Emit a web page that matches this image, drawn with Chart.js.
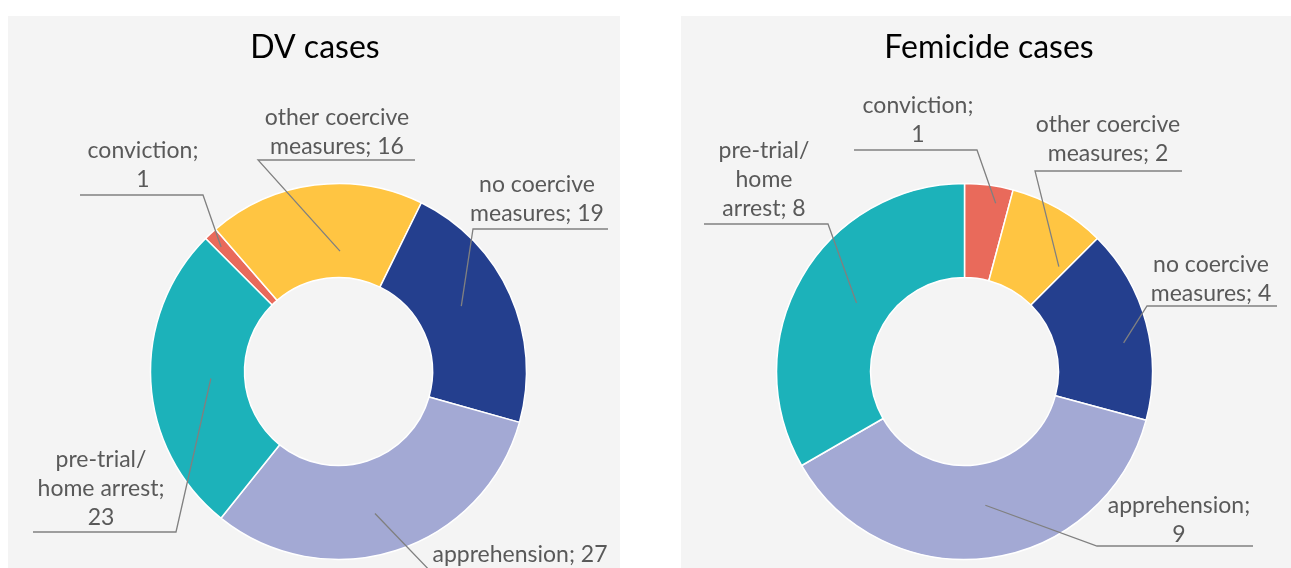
<!DOCTYPE html>
<html>
<head>
<meta charset="utf-8">
<script src="https://cdn.jsdelivr.net/npm/chart.js@4.4.1/dist/chart.umd.min.js"></script>
<style>
  body { margin: 0; background: #fff; width: 1291px; height: 568px; overflow: hidden; position: relative; font-family: Lato, sans-serif; }
  .panel { position: absolute; top: 16px; width: 612px; height: 552px; background: #f4f4f4; }
</style>
</head>
<body>
<div class="panel" style="left:8px"><canvas id="dvChart"></canvas></div>
<div class="panel" style="left:681px"><canvas id="femChart"></canvas></div>

<script>
// data
const categories = ['conviction', 'other coercive measures', 'no coercive measures', 'apprehension', 'pre-trial/home arrest'];
const dvValues = [1, 16, 19, 27, 23];
const femicideValues = [1, 2, 4, 9, 8];
const sliceColors = ['#e96a5b', '#ffc542', '#243f8e', '#a3a9d4', '#1cb2ba'];

// how each data label is wrapped ({v} = value)
const dvLabelLines = [
    ['conviction;', '{v}'],
    ['other coercive', 'measures; {v}'],
    ['no coercive', 'measures; {v}'],
    ['apprehension; {v}'],
    ['pre-trial/', 'home arrest;', '{v}']
];
const femicideLabelLines = [
    ['conviction;', '{v}'],
    ['other coercive', 'measures; {v}'],
    ['no coercive', 'measures; {v}'],
    ['apprehension;', '{v}'],
    ['pre-trial/', 'home', 'arrest; {v}']
];

// draws title, data labels and leader lines
const calloutPlugin = {
    id: 'callouts',
    afterDatasetsDraw(chart, args, opts) {
        const ctx = chart.ctx;
        const meta = chart.getDatasetMeta(0);
        const values = chart.data.datasets[0].data;
        ctx.save();
        ctx.textAlign = 'center';
        ctx.textBaseline = 'alphabetic';
        ctx.fillStyle = '#000';
        ctx.font = '32px Lato';
        ctx.fillText(opts.title, opts.titleX, opts.titleY);

        ctx.font = '23px Lato';
        opts.labels.forEach((lab, i) => {
            const arc = meta.data[i];
            const p = arc.getProps(['x', 'y', 'startAngle', 'endAngle', 'outerRadius'], true);
            const a = p.startAngle + lab.at * (p.endAngle - p.startAngle);
            const ax = p.x + Math.cos(a) * lab.r * p.outerRadius;
            const ay = p.y + Math.sin(a) * lab.r * p.outerRadius;
            const other = lab.elbow === lab.x1 ? lab.x2 : lab.x1;

            ctx.strokeStyle = '#808080';
            ctx.lineWidth = 1.3;
            ctx.beginPath();
            ctx.moveTo(ax, ay);
            ctx.lineTo(lab.elbow, lab.lineY);
            ctx.lineTo(other, lab.lineY);
            ctx.stroke();

            ctx.fillStyle = '#595959';
            opts.lines[i].forEach((t, k) => {
                ctx.fillText(t.replace('{v}', values[i]), lab.cx, lab.y + k * 29);
            });
        });
        ctx.restore();
    }
};

function renderDonut(id, values, rotation, padding, callouts) {
    const ctx = document.getElementById(id).getContext('2d');
    return new Chart(ctx, {
        type: 'doughnut',
        data: {
            labels: categories,
            datasets: [{
                data: values,
                backgroundColor: sliceColors,
                borderColor: '#ffffff',
                borderWidth: 1.5
            }]
        },
        options: {
            responsive: true,
            maintainAspectRatio: false,
            animation: false,
            events: [],
            rotation: rotation,
            cutout: '50%',
            layout: { padding: padding },
            plugins: {
                legend: { display: false },
                tooltip: { enabled: false },
                title: { display: false },
                callouts: callouts
            }
        },
        plugins: [calloutPlugin]
    });
}

renderDonut('dvChart', dvValues, -45,
    { left: 141.75, right: 92.75, top: 166.75, bottom: 7.75 },
    {
        title: 'DV cases', titleX: 307, titleY: 42,
        lines: dvLabelLines,
        labels: [
            { cx: 135, y: 142, lineY: 179, x1: 72, x2: 195, elbow: 195, at: 0.4, r: 0.91 },
            { cx: 329, y: 109, lineY: 144, x1: 250, x2: 407, elbow: 250, at: 0.62, r: 0.64 },
            { cx: 529, y: 176, lineY: 213, x1: 465, x2: 600, elbow: 465, at: 0.45, r: 0.74 },
            { cx: 512, y: 546, lineY: 560, x1: 427, x2: 600, elbow: 427, at: 0.53, r: 0.78 },
            { cx: 93, y: 451, lineY: 516, x1: 25, x2: 168, elbow: 168, at: 0.5, r: 0.68 }
        ]
    });

renderDonut('femChart', femicideValues, 0,
    { left: 94.75, right: 139.75, top: 166.75, bottom: 7.75 },
    {
        title: 'Femicide cases', titleX: 308, titleY: 42,
        lines: femicideLabelLines,
        labels: [
            { cx: 237, y: 97, lineY: 134, x1: 173, x2: 296, elbow: 296, at: 0.7, r: 0.91 },
            { cx: 427, y: 116, lineY: 155, x1: 354, x2: 501, elbow: 354, at: 0.9, r: 0.75 },
            { cx: 530, y: 256, lineY: 290, x1: 466, x2: 596, elbow: 466, at: 0.58, r: 0.86 },
            { cx: 498, y: 497, lineY: 530, x1: 416, x2: 572, elbow: 416, at: 0.49, r: 0.72 },
            { cx: 83, y: 142, lineY: 208, x1: 23, x2: 147, elbow: 147, at: 0.52, r: 0.68 }
        ]
    });
</script>
</body>
</html>
